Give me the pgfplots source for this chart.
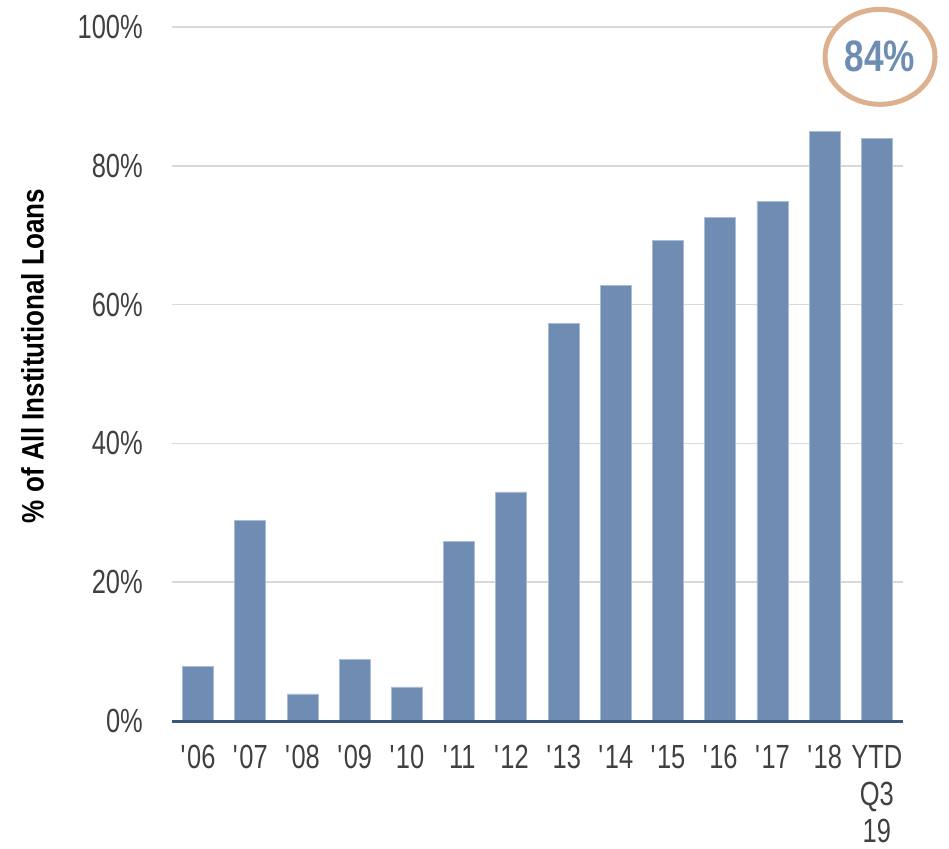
\documentclass[border=0pt]{standalone}
\usepackage{pgfplots}
\pgfplotsset{compat=1.18}
\usepackage{fontspec}
\setmainfont{Liberation Sans}
\newfontfamily\cf[FakeStretch=0.76]{Liberation Sans}
\newfontfamily\lf[FakeStretch=0.84]{Liberation Sans}
\newfontfamily\nf[FakeStretch=0.8]{Liberation Sans}
\definecolor{barblue}{HTML}{6F8DB2}
\definecolor{baredge}{HTML}{A9BCD3}
\definecolor{axisblue}{HTML}{3A5678}
\definecolor{ticktext}{HTML}{404040}
\definecolor{gridgray}{HTML}{D9D9D9}
\definecolor{ring}{HTML}{DDB08F}
\definecolor{numblue}{HTML}{6E8DB3}
\begin{document}
\begin{tikzpicture}
\useasboundingbox (-172pt,-127pt) rectangle (777pt,721pt);
\begin{axis}[
  at={(0,0)}, anchor=south west,
  scale only axis, width=731pt, height=694pt,
  xmin=-0.5, xmax=13.5, ymin=0, ymax=100,
  enlargelimits=false,
  clip=false,
  axis line style={draw=none},
  major tick length=0pt,
  ymajorgrids, grid style={gridgray, line width=1.5pt},
  ytick={0,20,40,60,80,100},
  yticklabels={0\%,20\%,40\%,60\%,80\%,100\%},
  xtick={0,1,2,3,4,5,6,7,8,9,10,11,12,13},
  xticklabels={\textquotesingle06,\textquotesingle07,\textquotesingle08,\textquotesingle09,\textquotesingle10,\textquotesingle11,\textquotesingle12,\textquotesingle13,\textquotesingle14,\textquotesingle15,\textquotesingle16,\textquotesingle17,\textquotesingle18,{YTD\\Q3\\19}},
  ticklabel style={font=\cf\fontsize{33.5}{37}\selectfont, text=ticktext, inner sep=0pt},
  yticklabel style={anchor=east, xshift=-29pt},
  xticklabel style={anchor=north, align=center, yshift=-24pt},
]
\addplot[ybar, bar width=31pt, fill=barblue, draw=baredge, line width=0.8pt]
  coordinates {(0,7.9) (1,28.9) (2,3.9) (3,8.9) (4,4.9) (5,25.9) (6,33.0) (7,57.3) (8,62.8) (9,69.2) (10,72.6) (11,74.9) (12,84.9) (13,84.0)};
\draw[axisblue, line width=3pt] (axis cs:-0.5,0) -- (axis cs:13.5,0);
\draw[ring, line width=5pt, fill=white] (axis cs:13.06,95.7) ellipse [x radius=55pt, y radius=47.5pt];
\node[font=\nf\bfseries\fontsize{44}{48}\selectfont, text=numblue, inner sep=0pt] at (axis cs:13.06,95.7) {84\%};
\node[rotate=90, font=\lf\bfseries\fontsize{31}{34}\selectfont, inner sep=0pt] at ([xshift=-139.5pt]rel axis cs:0,0.526) {\% of All Institutional Loans};
\end{axis}
\end{tikzpicture}
\end{document}
